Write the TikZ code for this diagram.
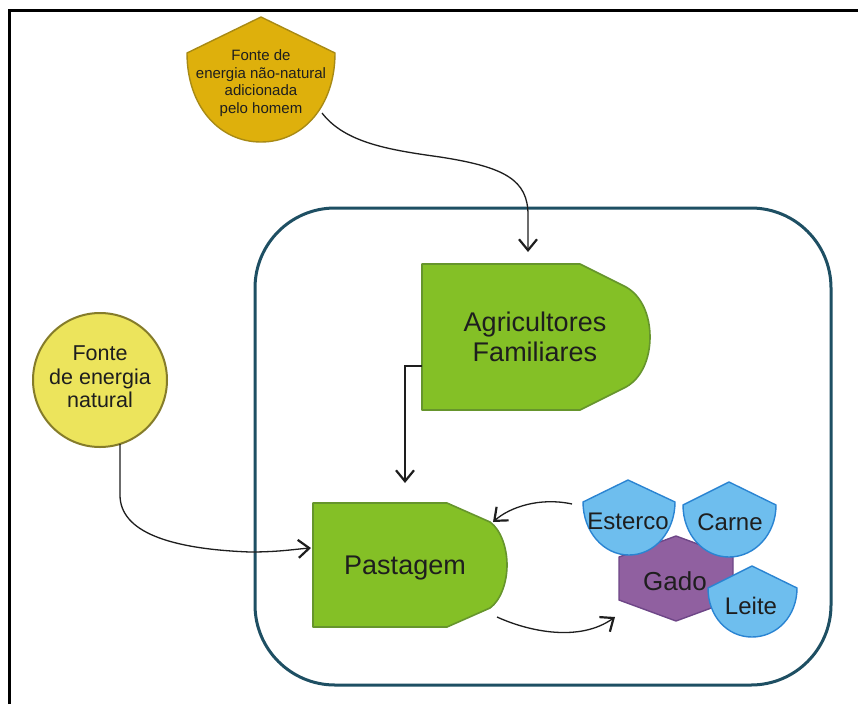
\documentclass[tikz,border=0pt]{standalone}
\usepackage{fontspec}
\setmainfont{Liberation Sans}
\usetikzlibrary{arrows.meta}

\definecolor{goldfill}{HTML}{DEB00C}
\definecolor{goldline}{HTML}{A88A14}
\definecolor{sunfill}{HTML}{ECE45C}
\definecolor{sunline}{HTML}{857C2A}
\definecolor{grassfill}{HTML}{84C026}
\definecolor{grassline}{HTML}{66952C}
\definecolor{skyfill}{HTML}{6EBEEE}
\definecolor{skyline}{HTML}{2A84D2}
\definecolor{plumfill}{HTML}{9060A0}
\definecolor{plumline}{HTML}{6E4687}
\definecolor{farmline}{HTML}{1E4F63}
\definecolor{ink}{HTML}{1E1E1E}

\begin{document}
\begin{tikzpicture}[x=1pt,y=-1pt,
  conn/.style={draw=ink,line width=1.3pt,
    -{Straight Barb[length=11pt,width=18pt,line width=2.2pt]}},
  goldshape/.style={fill=goldfill,draw=goldline,line width=1.4pt,line join=round},
  grassshape/.style={fill=grassfill,draw=grassline,line width=1.6pt,line join=round},
  skyshape/.style={fill=skyfill,draw=skyline,line width=1.4pt,line join=round},
  plumshape/.style={fill=plumfill,draw=plumline,line width=1.4pt,line join=round},
  label/.style={text=ink,align=center,inner sep=0pt}]

\useasboundingbox (0,0) rectangle (858,704);
\fill[white] (0,0) rectangle (858,704);

% page frame (top and left edges)
\draw[line width=3pt] (9.5,704) -- (9.5,10.5) -- (858,10.5);

% farm boundary
\draw[farmline,line width=3pt,rounded corners=80pt] (255,208) rectangle (831,685);

% external, non-natural energy source
\draw[goldshape] (187,53) -- (261,17) -- (335,53)
  .. controls (335,106) and (303,142) .. (261,142)
  .. controls (219,142) and (187,106) .. cycle;
\node[label,font=\fontsize{15}{17.5}\selectfont] (extern) at (261,83)
  {Fonte de\\energia não-natural\\adicionada\\pelo homem};

% natural energy source
\node[circle,fill=sunfill,draw=sunline,line width=2pt,minimum size=134pt,
  inner sep=0pt] (natural) at (100,380) {};
\node[label,font=\fontsize{21.5}{23.5}\selectfont] (natural-text) at (100,377)
  {Fonte\\de energia\\natural};

% family farmers
\draw[grassshape] (422,264) -- (580,264) -- (626,287)
  .. controls (642,296) and (650,316) .. (650,337)
  .. controls (650,358) and (642,378) .. (626,387)
  -- (580,410) -- (422,410) -- cycle;
\node[label,font=\fontsize{27}{30}\selectfont] (farmers) at (535,337)
  {Agricultores\\Familiares};

% pasture
\draw[grassshape] (313,503) -- (447,503) -- (490,522)
  .. controls (501,530) and (507,548) .. (507,565)
  .. controls (507,582) and (501,600) .. (490,608)
  -- (447,627) -- (313,627) -- cycle;
\node[label,font=\fontsize{27}{30}\selectfont] (pasture) at (405,568) {Pastagem};

% cattle and its products
\draw[plumshape] (676,536) -- (733,557) -- (733,600) -- (676,621)
  -- (619,600) -- (619,557) -- cycle;
\node[label,font=\fontsize{26}{28}\selectfont] (cattle) at (675,581) {Gado};

\draw[skyshape] (583,502) -- (628,480) -- (675,502)
  .. controls (675,531) and (655,555) .. (629,555)
  .. controls (603,555) and (583,531) .. cycle;
\node[label,font=\fontsize{24}{26}\selectfont] (manure) at (628,521) {Esterco};

\draw[skyshape] (683,505) -- (729,482) -- (776,505)
  .. controls (776,534) and (755,557) .. (729,557)
  .. controls (703,557) and (683,534) .. cycle;
\node[label,font=\fontsize{24}{26}\selectfont] (meat) at (730,522) {Carne};

\draw[skyshape] (708,588) -- (752,566) -- (797,588)
  .. controls (797,616) and (777,637) .. (752,637)
  .. controls (727,637) and (708,616) .. cycle;
\node[label,font=\fontsize{24}{26}\selectfont] (milk) at (751,606) {Leite};

% connector end points on the shape outlines
\coordinate (extern-out) at (322,113);
\coordinate (farmers-in) at (528,252);
\coordinate (farmers-out) at (422,366);
\coordinate (pasture-top) at (405,483);
\coordinate (natural-out) at (120,444);
\coordinate (pasture-in) at (311,548);
\coordinate (manure-out) at (572,504);
\coordinate (pasture-back) at (493,522);
\coordinate (pasture-out) at (497,617);
\coordinate (cattle-in) at (615,617);

% flows
\draw[conn] (extern-out) .. controls (345,143) and (390,150) .. (440,157)
  .. controls (505,167) and (528,180) .. (528,215) -- (farmers-in);
\draw[conn] (farmers-out) -- (405,366) -- (pasture-top);
\draw[conn] (natural-out) -- (120,495)
  .. controls (120,532) and (170,549) .. (250,552)
  .. controls (280,552) and (296,549) .. (pasture-in);
\draw[conn] (manure-out) .. controls (540,497) and (510,507) .. (pasture-back);
\draw[conn] (pasture-out) .. controls (530,632) and (580,642) .. (cattle-in);

\end{tikzpicture}
\end{document}
